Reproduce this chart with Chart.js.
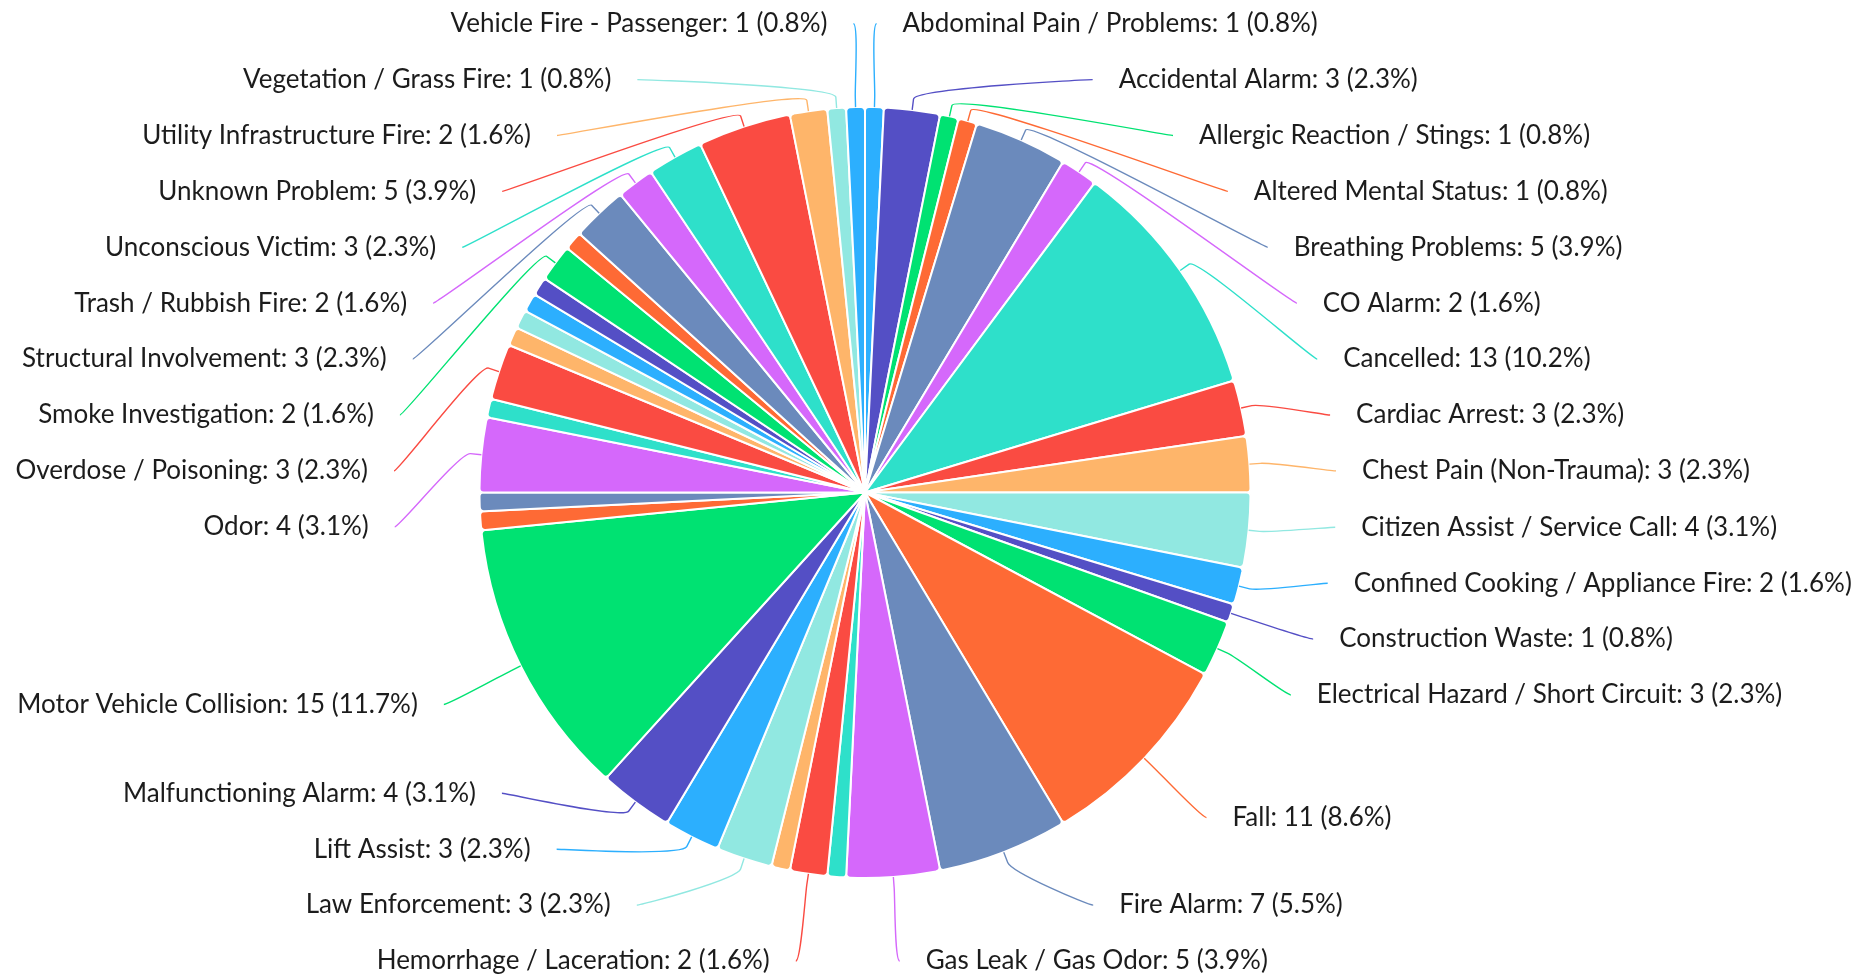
<!DOCTYPE html>
<html>
<head>
<meta charset="utf-8">
<title>Incidents by type</title>
<script src="https://cdn.jsdelivr.net/npm/chart.js@4"></script>
<style>
  html, body { margin: 0; padding: 0; background: #fff; }
</style>
</head>
<body>
<canvas id="myChart" width="1858" height="979"></canvas>
<script>
// incident types (alphabetical, drawn clockwise from 12 o'clock)
var categories = [
  'Abdominal Pain / Problems', 'Accidental Alarm', 'Allergic Reaction / Stings',
  'Altered Mental Status', 'Breathing Problems', 'CO Alarm', 'Cancelled',
  'Cardiac Arrest', 'Chest Pain (Non-Trauma)', 'Citizen Assist / Service Call',
  'Confined Cooking / Appliance Fire', 'Construction Waste',
  'Electrical Hazard / Short Circuit', 'Fall', 'Fire Alarm', 'Gas Leak / Gas Odor',
  'Hazardous Materials', 'Hemorrhage / Laceration', 'Illegal Burn', 'Law Enforcement',
  'Lift Assist', 'Malfunctioning Alarm', 'Motor Vehicle Collision', 'Mutual Aid',
  'Nausea / Vomiting', 'Odor', 'Outside Fire', 'Overdose / Poisoning',
  'Power Line Down', 'Public Assist', 'Seizure', 'Sick Person', 'Smoke Investigation',
  'Stroke / CVA', 'Structural Involvement', 'Trash / Rubbish Fire',
  'Unconscious Victim', 'Unknown Problem', 'Utility Infrastructure Fire',
  'Vegetation / Grass Fire', 'Vehicle Fire - Passenger'
];
// number of incidents per type
var incidents = [
  1, 3, 1, 1, 5, 2, 13, 3, 3, 4, 2, 1, 3, 11, 7, 5,
  1, 2, 1, 3, 3, 4, 15, 1, 1, 4, 1, 3, 1, 1, 1, 1, 2, 1, 3, 2, 3, 5, 2, 1, 1
];

var palette = ['#2caffe', '#544fc5', '#00e272', '#fe6a35', '#6b8abc',
               '#d568fb', '#2ee0ca', '#fa4b42', '#feb56a', '#91e8e1'];

// spread labels of one side over the height, drop low values that don't fit
function distribute(items, len, size, maxDist) {
  var ranked = items.map(function (b, k) { return { b: b, k: k }; })
    .sort(function (p, q) { return (q.b.rank - p.b.rank) || (p.k - q.k); })
    .map(function (p) { return p.b; });
  var n = Math.min(ranked.length, Math.floor(len / size));
  while (n > 0) {
    items.forEach(function (b) { b.pos = null; });
    var vis = ranked.slice(0, n).sort(function (p, q) { return p.target - q.target; });
    var groups = vis.map(function (b) { return { size: size, targets: [b.target], members: [b] }; });
    var overlapping = true;
    while (overlapping) {
      groups.forEach(function (g) {
        var t = (Math.min.apply(null, g.targets) + Math.max.apply(null, g.targets)) / 2;
        g.pos = Math.min(Math.max(t - g.size / 2, 0), len - g.size);
      });
      overlapping = false;
      for (var k = groups.length - 1; k > 0; k--) {
        if (groups[k - 1].pos + groups[k - 1].size > groups[k].pos + 0.001) {
          groups[k - 1].size += groups[k].size;
          groups[k - 1].targets = groups[k - 1].targets.concat(groups[k].targets);
          groups[k - 1].members = groups[k - 1].members.concat(groups[k].members);
          if (groups[k - 1].pos + groups[k - 1].size > len) {
            groups[k - 1].pos = len - groups[k - 1].size;
          }
          groups.splice(k, 1);
          overlapping = true;
        }
      }
    }
    var ok = true;
    groups.forEach(function (g) {
      g.members.forEach(function (b, j) {
        b.pos = g.pos + j * size + size / 2;
        if (Math.abs(b.pos - b.target) > maxDist) ok = false;
      });
    });
    if (ok) return;
    n--;
  }
}

// labels outside the pie with connector lines
var outsideLabels = {
  id: 'outsideLabels',
  afterDatasetsDraw: function (chart, args, opts) {
    var ctx = chart.ctx;
    var arcs = chart.getDatasetMeta(0).data;
    var values = chart.data.datasets[0].data;
    var colors = chart.data.datasets[0].backgroundColor;
    var total = values.reduce(function (a, b) { return a + b; }, 0);
    var cx = arcs[0].x, cy = arcs[0].y, r = arcs[0].outerRadius;
    var R = r + opts.distance;
    var half = opts.slot / 2;
    var top = opts.firstY - half;
    var len = opts.lastY - opts.firstY + opts.slot;
    var sides = [[], []];
    arcs.forEach(function (arc, i) {
      var a = (arc.startAngle + arc.endAngle) / 2;
      var item = { i: i, a: a, rank: values[i], natural: cy + R * Math.sin(a) };
      item.target = item.natural - top;
      sides[Math.cos(a) < 0 ? 1 : 0].push(item);
    });
    sides[1].reverse();

    ctx.save();
    ctx.font = opts.font;
    ctx.textBaseline = 'middle';
    sides.forEach(function (list, side) {
      distribute(list, len, opts.slot, opts.maxDistance);
      var dir = side ? -1 : 1;
      list.forEach(function (it) {
        if (it.pos == null) return;
        var y = top + it.pos;
        // labels pushed to the edges take x from their natural spot
        var yx = (it.pos < half + 2 || it.pos > len - half - 2) ? it.natural : y;
        var dy = Math.max(-R, Math.min(R, yx - cy));
        var lx = cx + dir * Math.sqrt(R * R - dy * dy);
        var tx = cx + r * Math.cos(it.a), ty = cy + r * Math.sin(it.a);
        var bx = tx + opts.breakOffset * Math.cos(it.a);
        var by = ty + opts.breakOffset * Math.sin(it.a);
        ctx.beginPath();
        ctx.moveTo(lx, y);
        ctx.bezierCurveTo(lx - dir * 5, y, 2 * bx - tx, 2 * by - ty, bx, by);
        ctx.lineTo(tx, ty);
        ctx.strokeStyle = colors[it.i];
        ctx.lineWidth = opts.lineWidth;
        ctx.stroke();

        var v = values[it.i];
        ctx.fillStyle = opts.color;
        ctx.textAlign = side ? 'right' : 'left';
        ctx.fillText(chart.data.labels[it.i] + ': ' + v + ' (' + (v / total * 100).toFixed(1) + '%)',
                     lx + dir * opts.padding, y);
      });
    });
    ctx.restore();
  }
};

var ctx = document.getElementById('myChart');
var myChart = new Chart(ctx, {
  type: 'pie',
  data: {
    labels: categories,
    datasets: [{
      data: incidents,
      backgroundColor: categories.map(function (c, i) { return palette[i % palette.length]; }),
      borderColor: '#ffffff',
      borderWidth: 2,
      borderRadius: 4,
      hoverOffset: 0
    }]
  },
  plugins: [outsideLabels],
  options: {
    responsive: false,
    animation: false,
    events: [],
    layout: { padding: { left: 478, right: 606, top: 106, bottom: 100 } },
    plugins: {
      legend: { display: false },
      tooltip: { enabled: false },
      outsideLabels: {
        distance: 86,
        padding: 26,
        slot: 55.9,
        firstY: 23.7,
        lastY: 961,
        maxDistance: 230,
        breakOffset: 11,
        lineWidth: 1.4,
        color: '#1c1c1c',
        font: '26px Lato'
      }
    }
  }
});
</script>
</body>
</html>
